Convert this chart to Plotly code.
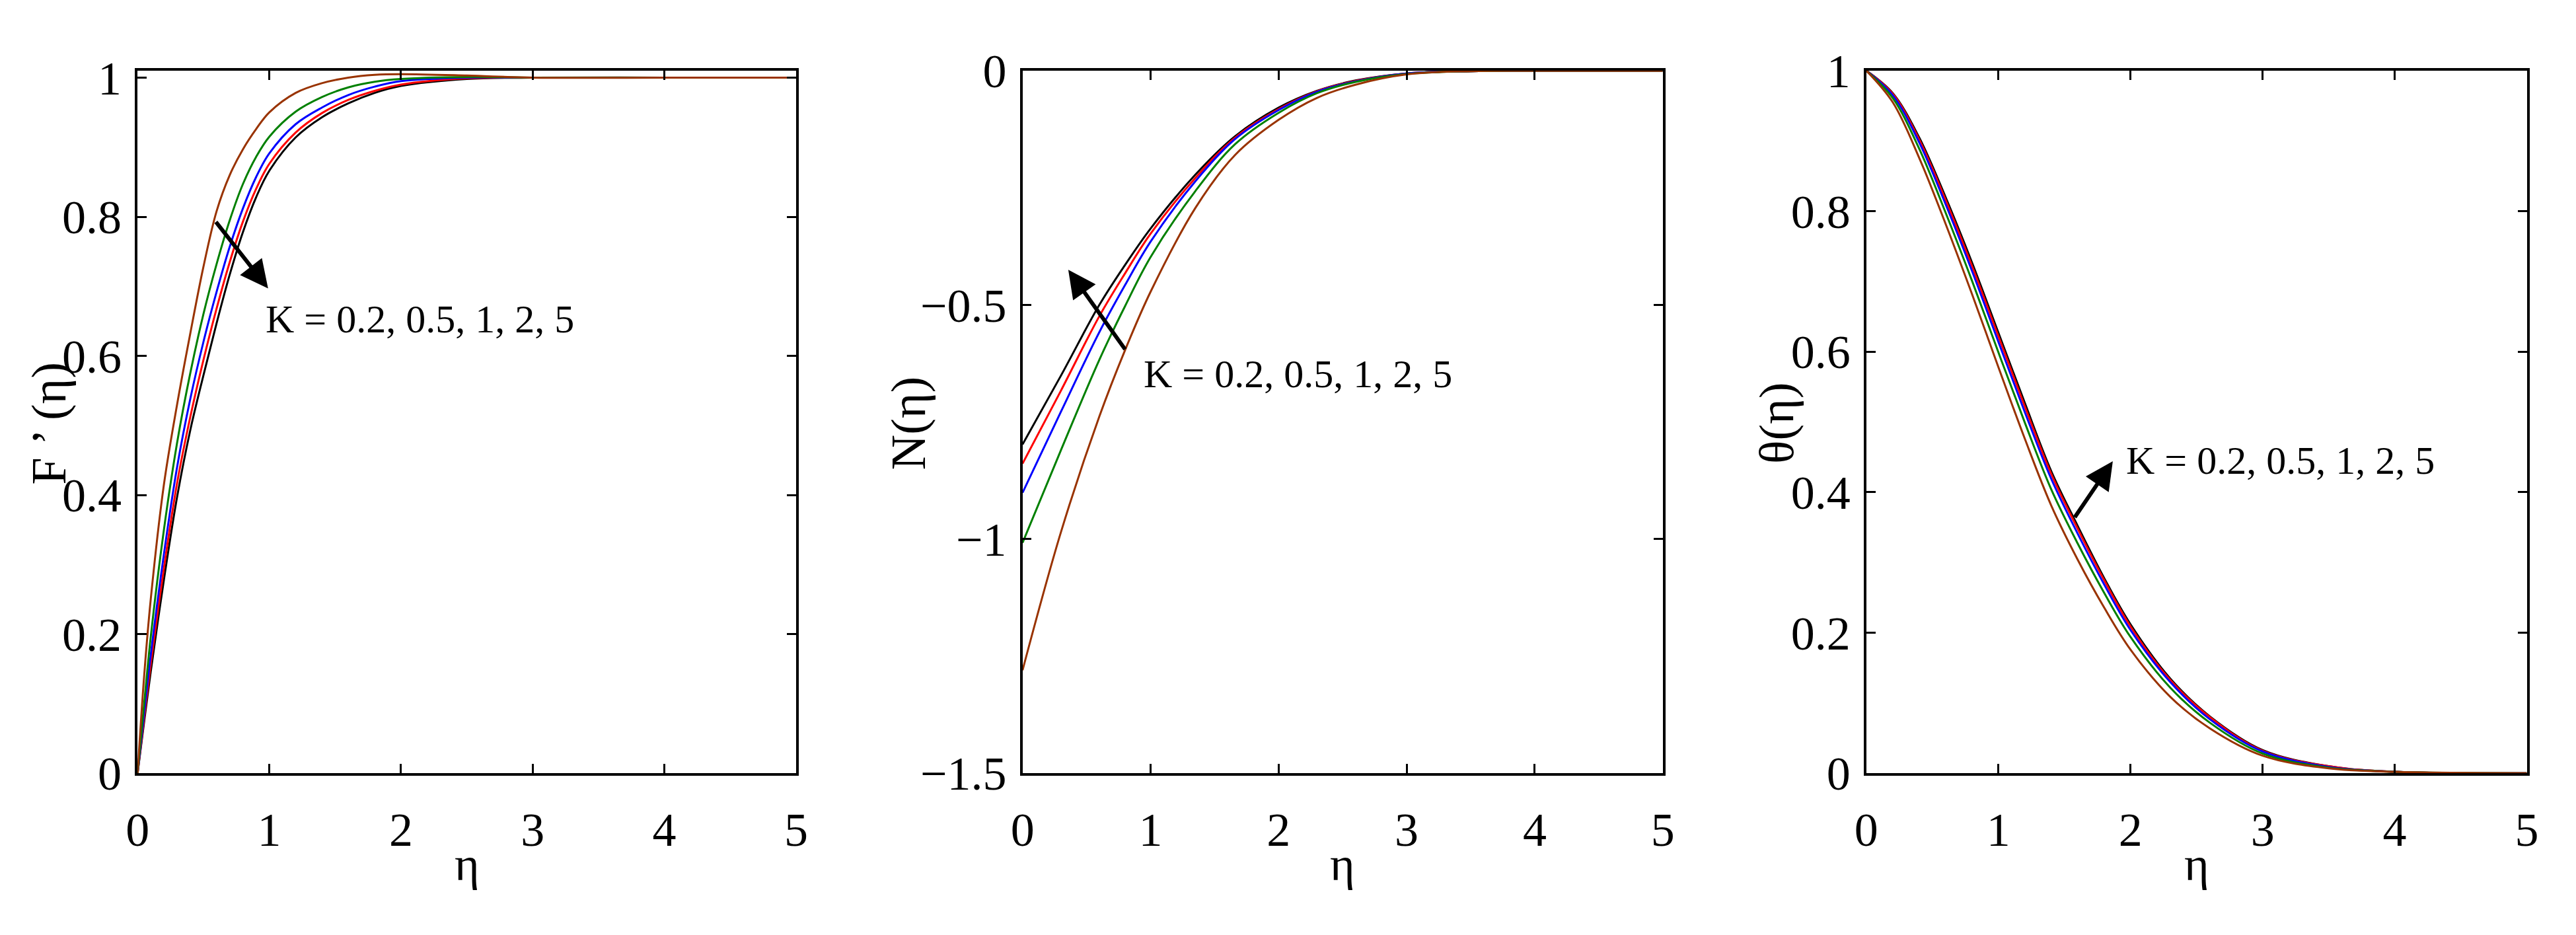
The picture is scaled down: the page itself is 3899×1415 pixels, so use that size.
import plotly.graph_objects as go

# ---------------- data ----------------
K_labels = ["0.2", "0.5", "1", "2", "5"]
colors = ["#000000", "#FF0000", "#0000FF", "#008000", "#993300"]

# Panel 1 : F'(eta)
eta1 = [0, 0.05, 0.1, 0.2, 0.3, 0.4, 0.5, 0.6, 0.7, 0.8, 0.9, 1.0, 1.2, 1.4, 1.6, 1.8, 2.0, 2.5, 3.0, 4.0, 5.0]
Fp_K02 = [0, 0.074, 0.146, 0.278, 0.397, 0.493, 0.572, 0.647, 0.717, 0.778, 0.828, 0.866, 0.914, 0.943, 0.963, 0.978, 0.988, 0.998, 1.0, 1.0, 1.0]
Fp_K05 = [0, 0.079, 0.157, 0.295, 0.417, 0.512, 0.594, 0.668, 0.735, 0.793, 0.840, 0.876, 0.921, 0.949, 0.968, 0.981, 0.990, 0.999, 1.0, 1.0, 1.0]
Fp_K1 = [0, 0.086, 0.170, 0.315, 0.440, 0.538, 0.620, 0.692, 0.757, 0.812, 0.857, 0.891, 0.933, 0.957, 0.975, 0.987, 0.995, 1.0, 1.0, 1.0, 1.0]
Fp_K2 = [0, 0.100, 0.196, 0.350, 0.475, 0.575, 0.660, 0.732, 0.795, 0.847, 0.886, 0.915, 0.951, 0.972, 0.986, 0.994, 0.998, 1.001, 1.0, 1.0, 1.0]
Fp_K5 = [0, 0.140, 0.250, 0.415, 0.530, 0.632, 0.728, 0.808, 0.860, 0.897, 0.926, 0.950, 0.978, 0.992, 1.000, 1.004, 1.005, 1.003, 1.0, 1.0, 1.0]

# Panel 2 : N(eta)
eta2 = [0, 0.3, 0.6, 0.8, 1.0, 1.35, 1.66, 2.0, 2.3, 2.6, 3.0, 3.5, 4.0, 5.0]
N_K02 = [-0.798, -0.651, -0.500, -0.415, -0.337, -0.222, -0.140, -0.079, -0.043, -0.021, -0.006, -0.001, 0, 0]
N_K05 = [-0.839, -0.683, -0.524, -0.433, -0.348, -0.229, -0.143, -0.082, -0.044, -0.022, -0.006, -0.001, 0, 0]
N_K1 = [-0.901, -0.728, -0.558, -0.458, -0.365, -0.236, -0.146, -0.084, -0.045, -0.023, -0.006, -0.001, 0, 0]
N_K2 = [-1.008, -0.810, -0.617, -0.503, -0.398, -0.257, -0.157, -0.090, -0.048, -0.024, -0.007, -0.001, 0, 0]
N_K5 = [-1.280, -0.985, -0.738, -0.597, -0.472, -0.293, -0.180, -0.105, -0.058, -0.030, -0.008, -0.001, 0, 0]

# Panel 3 : theta(eta)
eta3 = [0, 0.2, 0.4, 0.6, 0.8, 1.0, 1.2, 1.4, 1.6, 1.8, 2.0, 2.3, 2.6, 3.0, 3.5, 4.0, 5.0]
T_K02 = [1.0, 0.968, 0.905, 0.820, 0.727, 0.627, 0.527, 0.430, 0.352, 0.278, 0.212, 0.135, 0.081, 0.033, 0.010, 0.002, 0.0]
T_K05 = [1.0, 0.967, 0.902, 0.816, 0.722, 0.622, 0.522, 0.426, 0.348, 0.275, 0.209, 0.133, 0.080, 0.032, 0.010, 0.002, 0.0]
T_K1 = [1.0, 0.965, 0.898, 0.810, 0.715, 0.614, 0.514, 0.419, 0.341, 0.269, 0.204, 0.130, 0.077, 0.031, 0.009, 0.002, 0.0]
T_K2 = [1.0, 0.961, 0.889, 0.798, 0.701, 0.599, 0.499, 0.404, 0.327, 0.257, 0.194, 0.122, 0.072, 0.028, 0.008, 0.002, 0.0]
T_K5 = [1.0, 0.955, 0.876, 0.782, 0.682, 0.578, 0.476, 0.381, 0.304, 0.236, 0.176, 0.109, 0.064, 0.025, 0.007, 0.002, 0.0]

x_ticks = [0, 1, 2, 3, 4, 5]
y1_ticks = [0, 0.2, 0.4, 0.6, 0.8, 1]
y1_text = ["0", "0.2", "0.4", "0.6", "0.8", "1"]
y2_ticks = [-1.5, -1, -0.5, 0]
y2_text = ["\u22121.5", "\u22121", "\u22120.5", "0"]
y3_ticks = [0, 0.2, 0.4, 0.6, 0.8, 1]
y3_text = ["0", "0.2", "0.4", "0.6", "0.8", "1"]

annot_text = "K = 0.2, 0.5, 1, 2, 5"
ytitles = ["F \u2019 (\u03b7)", "N(\u03b7)", "\u03b8(\u03b7)"]
xtitle = "\u03b7"

# ---------------- figure ----------------
FONT = "Liberation Serif, Times New Roman, serif"
W, H = 3899, 1415
fig = go.Figure()

panels = [
    (eta1, [Fp_K02, Fp_K05, Fp_K1, Fp_K2, Fp_K5], "x", "y"),
    (eta2, [N_K02, N_K05, N_K1, N_K2, N_K5], "x2", "y2"),
    (eta3, [T_K02, T_K05, T_K1, T_K2, T_K5], "x3", "y3"),
]
for eta, series, xa, ya in panels:
    for k, (vals, col) in enumerate(zip(series, colors)):
        fig.add_trace(go.Scatter(
            x=eta, y=vals, mode="lines", xaxis=xa, yaxis=ya,
            line=dict(color=col, width=3, shape="spline", smoothing=1.0),
            name="K = " + K_labels[k], showlegend=False, hoverinfo="skip"))

top_px, bot_px = 72, 1199
ydom = [1 - bot_px / H, 1 - top_px / H]
xdoms = [[192 / W, 1198 / W], [1544 / W, 2522 / W], [2833 / W, 3842 / W]]

TICKSIZE = 72

def xaxis(dom, anchor):
    return dict(domain=dom, anchor=anchor, range=[0, 5], tickvals=x_ticks,
                showline=True, linecolor="black", linewidth=3.5, mirror="allticks",
                ticks="inside", ticklen=14, tickwidth=3, tickcolor="black",
                showgrid=False, zeroline=False, ticklabelstandoff=20,
                tickfont=dict(family=FONT, size=TICKSIZE, color="black"))

def yaxis(anchor, rng, tv, tt):
    return dict(domain=ydom, anchor=anchor, range=rng, tickvals=tv, ticktext=tt,
                showline=True, linecolor="black", linewidth=3.5, mirror="allticks",
                ticks="inside", ticklen=14, tickwidth=3, tickcolor="black",
                showgrid=False, zeroline=False, ticklabelstandoff=6,
                tickfont=dict(family=FONT, size=TICKSIZE, color="black"))

fig.update_layout(
    width=W, height=H, margin=dict(l=0, r=0, t=0, b=0),
    paper_bgcolor="white", plot_bgcolor="white", showlegend=False,
    xaxis=xaxis(xdoms[0], "y"), yaxis=yaxis("x", [0, 1.01], y1_ticks, y1_text),
    xaxis2=xaxis(xdoms[1], "y2"), yaxis2=yaxis("x2", [-1.5, 0], y2_ticks, y2_text),
    xaxis3=xaxis(xdoms[2], "y3"), yaxis3=yaxis("x3", [0, 1], y3_ticks, y3_text),
)

annotations = []
# arrows (tail -> head) in data coordinates
arrows = [
    ("x", "y", 0.589, 0.794, 0.991, 0.697),
    ("x2", "y2", 0.806, -0.597, 0.357, -0.425),
    ("x3", "y3", 1.573, 0.363, 1.866, 0.444),
]
for xr, yr, tx, ty, hx, hy in arrows:
    annotations.append(dict(xref=xr, yref=yr, axref=xr, ayref=yr, x=hx, y=hy, ax=tx, ay=ty,
                            text="", showarrow=True, arrowhead=2, arrowsize=1.4,
                            arrowwidth=6, arrowcolor="black", standoff=0, startstandoff=0))
# K labels
labels = [("x", "y", 0.962, 0.653), ("x2", "y2", 0.937, -0.648), ("x3", "y3", 1.957, 0.445)]
for xr, yr, lx, ly in labels:
    annotations.append(dict(xref=xr, yref=yr, x=lx, y=ly, text=annot_text, showarrow=False,
                            xanchor="left", yanchor="middle",
                            font=dict(family=FONT, size=60, color="black")))
# axis titles
for dom in xdoms:
    annotations.append(dict(xref="paper", yref="paper", x=(dom[0] + dom[1]) / 2, y=1 - 1345 / H,
                            text=xtitle, showarrow=False, xanchor="center", yanchor="middle",
                            font=dict(family=FONT, size=72, color="black")))
for xc, t in zip([56, 1370, 2696], ytitles):
    annotations.append(dict(xref="paper", yref="paper", x=xc / W, y=1 - 638 / H,
                            text=t, showarrow=False, textangle=-90,
                            xanchor="center", yanchor="middle",
                            font=dict(family=FONT, size=74, color="black")))
fig.update_layout(annotations=annotations)

fig.write_html("out.html", config={"displayModeBar": False},
               post_script="document.body.style.margin='0';document.body.style.overflow='hidden';")
